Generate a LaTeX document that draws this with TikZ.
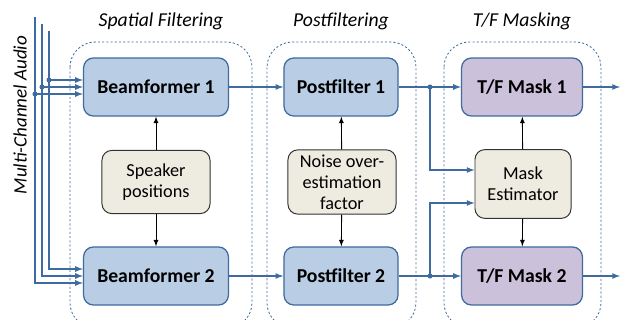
\documentclass[tikz,border=0pt]{standalone}
\usepackage{fontspec}
\setmainfont{Carlito}
\usetikzlibrary{calc}
\definecolor{boxblue}{HTML}{B9CDE5}
\definecolor{boxpurple}{HTML}{CCC1DA}
\definecolor{boxbeige}{HTML}{EEECE1}
\definecolor{lineblue}{HTML}{3E6BA0}

\tikzset{
  block/.style={draw=lineblue, line width=0.9pt, fill=boxblue, rounded corners=7pt,
    minimum height=1.45cm, font=\bfseries\fontsize{14}{16}\selectfont},
  maskblock/.style={block, fill=boxpurple},
  param/.style={draw=black!80, line width=0.7pt, fill=boxbeige, rounded corners=7pt,
    align=center, font=\fontsize{13}{15}\selectfont},
  group/.style={draw=lineblue, line width=0.6pt, dash pattern=on 1.5pt off 1.5pt, rounded corners=18pt},
  title/.style={font=\itshape\fontsize{14}{16}\selectfont},
  wire/.style={draw=lineblue, line width=0.9pt},
  ctrl/.style={draw=black, line width=0.6pt},
  jdot/.style={fill=lineblue}
}

\begin{document}
\begin{tikzpicture}[x=0.025cm, y=-0.025cm]
                            \useasboundingbox (0,0) rectangle (624,320);

                            % Groups
                            \draw[group] (70,42) rectangle (252,328);
                            \draw[group] (267,42) rectangle (416,328);
                            \draw[group] (444,42) rectangle (601,328);
                            \node[title] (tsf) at (161,21) {Spatial Filtering};
                            \node[title] (tpf) at (341,21) {Postfiltering};
                            \node[title] (ttf) at (522,21) {T/F Masking};

                            % Blocks
                            \node[block, minimum width=3.62cm] (bf1) at (156,87) {Beamformer 1};
                            \node[block, minimum width=3.62cm] (bf2) at (156,276) {Beamformer 2};
                            \node[block, minimum width=2.85cm] (pf1) at (341,87) {Postfilter 1};
                            \node[block, minimum width=2.85cm] (pf2) at (341,276) {Postfilter 2};
                            \node[maskblock, minimum width=3.02cm] (tf1) at (522,87) {T/F Mask 1};
                            \node[maskblock, minimum width=3.02cm] (tf2) at (522,276) {T/F Mask 2};
                            \node[param, minimum width=2.7cm, minimum height=1.58cm] (sp) at (156,182) {Speaker\\positions};
                            \node[param, minimum width=2.7cm, minimum height=1.58cm] (nf) at (342,182) {Noise over-\\estimation\\factor};
                            \node[param, minimum width=2.4cm, minimum height=1.72cm] (me) at (523,184) {Mask\\Estimator};

                            % Input channels
                            \node[title, rotate=90, font=\itshape\fontsize{13.5}{16}\selectfont] (mca) at (20,115) {Multi-Channel Audio};
                            \foreach \i/\xx/\yt/\dy in {1/49/31/-7, 2/42/24/0, 3/35/17/7} {
                              \coordinate (top\i) at (\xx,\yt);
                              \coordinate (dot\i) at (\xx,87+\dy);
                              \draw[wire,-latex] (top\i) |- ($(bf2.west)+(0,\dy)$);
                              \draw[wire,-latex] (dot\i) -- (dot\i -| bf1.west);
                              \fill[jdot] (dot\i) circle (1.8pt);
                            }

                            % Signal path
                            \draw[wire,-latex] (bf1) -- (pf1);
                            \draw[wire,-latex] (bf2) -- (pf2);
                            \coordinate (j1) at (430,87);
                            \coordinate (j2) at (430,276);
                            \draw[wire,-latex] (pf1) -- (tf1);
                            \draw[wire,-latex] (pf2) -- (tf2);
                            \draw[wire,-latex] (j1) |- ($(me.west)+(0,-14)$);
                            \draw[wire,-latex] (j2) |- ($(me.west)+(0,19)$);
                            \fill[jdot] (j1) circle (1.8pt);
                            \fill[jdot] (j2) circle (1.8pt);
                            \coordinate (out1) at (620,87);
                            \coordinate (out2) at (620,276);
                            \draw[wire,-latex] (tf1) -- (out1);
                            \draw[wire,-latex] (tf2) -- (out2);

                            % Parameters
                            \draw[ctrl,-latex] (sp) -- (bf1);
                            \draw[ctrl,-latex] (sp) -- (bf2);
                            \draw[ctrl,-latex] (nf) -- (pf1);
                            \draw[ctrl,-latex] (nf) -- (pf2);
                            \draw[ctrl,-latex] (me) -- (tf1);
                            \draw[ctrl,-latex] (me) -- (tf2);
                      \end{tikzpicture}
\end{document}
